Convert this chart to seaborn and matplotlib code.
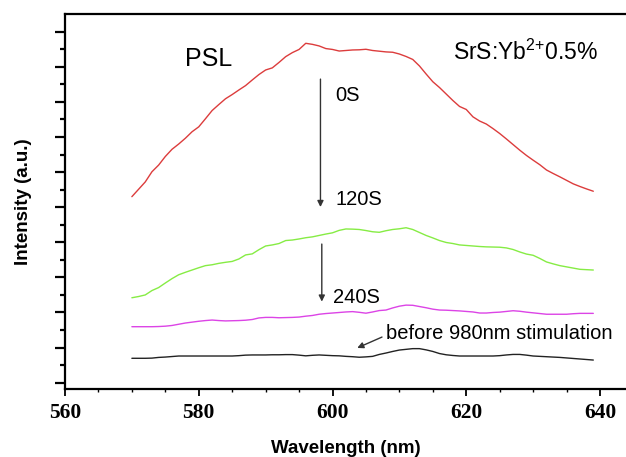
import numpy as np
import pandas as pd
import matplotlib
matplotlib.use("Agg")
import matplotlib.pyplot as plt
import seaborn as sns

# Wavelength grid (nm)
wavelength = np.arange(570, 640)

# PSL spectra (arbitrary units)
psl_0s = [10.60, 11.02, 11.44, 12.02, 12.40, 12.89, 13.30, 13.60, 13.93, 14.30,
          14.58, 15.04, 15.51, 15.85, 16.18, 16.42, 16.68, 16.93, 17.25, 17.56,
          17.82, 17.94, 18.25, 18.58, 18.81, 18.99, 19.34, 19.28, 19.19, 19.04,
          18.99, 18.90, 18.93, 18.96, 18.97, 19.00, 18.93, 18.89, 18.85, 18.83,
          18.73, 18.59, 18.42, 18.05, 17.59, 17.15, 16.82, 16.45, 16.08, 15.74,
          15.57, 15.15, 14.91, 14.74, 14.48, 14.20, 13.89, 13.57, 13.25, 12.95,
          12.68, 12.42, 12.12, 11.92, 11.73, 11.53, 11.33, 11.18, 11.04, 10.91]

psl_120s = [4.84, 4.91, 5.00, 5.25, 5.42, 5.68, 5.93, 6.15, 6.29, 6.42,
            6.55, 6.67, 6.72, 6.80, 6.86, 6.91, 7.05, 7.28, 7.34, 7.58,
            7.79, 7.85, 7.93, 8.10, 8.13, 8.19, 8.26, 8.31, 8.39, 8.47,
            8.54, 8.68, 8.76, 8.75, 8.73, 8.67, 8.60, 8.57, 8.66, 8.73,
            8.77, 8.83, 8.73, 8.56, 8.39, 8.25, 8.10, 7.99, 7.93, 7.85,
            7.82, 7.79, 7.76, 7.74, 7.73, 7.72, 7.68, 7.59, 7.45, 7.33,
            7.26, 7.08, 6.88, 6.77, 6.67, 6.60, 6.53, 6.46, 6.44, 6.42]

psl_240s = [3.19, 3.19, 3.19, 3.19, 3.20, 3.22, 3.26, 3.33, 3.40, 3.45,
            3.50, 3.54, 3.57, 3.54, 3.52, 3.53, 3.54, 3.56, 3.60, 3.69,
            3.72, 3.72, 3.70, 3.71, 3.72, 3.74, 3.79, 3.83, 3.90, 3.94,
            3.97, 4.00, 4.03, 4.05, 4.01, 3.96, 4.03, 4.11, 4.14, 4.26,
            4.36, 4.42, 4.41, 4.34, 4.27, 4.19, 4.14, 4.13, 4.11, 4.09,
            4.06, 4.03, 3.97, 3.97, 4.00, 4.02, 4.06, 4.10, 4.07, 4.02,
            3.98, 3.94, 3.90, 3.90, 3.90, 3.90, 3.93, 3.95, 3.95, 3.95]

psl_before = [1.39, 1.39, 1.39, 1.40, 1.44, 1.46, 1.49, 1.52, 1.52, 1.52,
              1.52, 1.52, 1.52, 1.52, 1.52, 1.52, 1.54, 1.57, 1.58, 1.58,
              1.58, 1.59, 1.59, 1.60, 1.60, 1.57, 1.53, 1.56, 1.58, 1.56,
              1.54, 1.53, 1.50, 1.48, 1.45, 1.47, 1.50, 1.61, 1.69, 1.78,
              1.86, 1.90, 1.94, 1.94, 1.87, 1.78, 1.66, 1.59, 1.55, 1.52,
              1.52, 1.52, 1.52, 1.52, 1.52, 1.54, 1.58, 1.61, 1.61, 1.57,
              1.52, 1.50, 1.48, 1.46, 1.44, 1.41, 1.38, 1.35, 1.32, 1.29]

series_colors = {"0S": "#dc3c3c", "120S": "#86ec44", "240S": "#dc44e6",
                 "before": "#222222"}

x_major = [560, 580, 600, 620, 640]

sns.set_style("ticks")
plt.rcParams["font.family"] = ["Liberation Sans", "DejaVu Sans"]
plt.rcParams["mathtext.fontset"] = "custom"
plt.rcParams["mathtext.rm"] = "Liberation Sans"
plt.rcParams["mathtext.default"] = "regular"
plt.rcParams["text.color"] = "black"
plt.rcParams["axes.labelcolor"] = "black"
plt.rcParams["xtick.color"] = "black"
plt.rcParams["ytick.color"] = "black"

fig = plt.figure(figsize=(6.26, 4.57), dpi=100)
ax = fig.add_axes([65 / 626, 68 / 457, 561.75 / 626, 375 / 457])

spectra = {"0S": psl_0s, "120S": psl_120s, "240S": psl_240s, "before": psl_before}
for name, vals in spectra.items():
    sns.lineplot(x=wavelength, y=vals, color=series_colors[name], lw=1.0,
                 ax=ax, legend=False)

ax.set_xlim(560, 644)
ax.set_ylim(-0.36, 21.01)
ax.set_xticks(x_major)
ax.set_xticks(np.arange(560, 645, 5), minor=True)
ax.set_yticks(np.arange(0, 21, 2))
ax.set_yticks(np.arange(1, 21, 2), minor=True)
ax.set_yticklabels([])

for side in ("left", "top", "bottom"):
    ax.spines[side].set_linewidth(1.6)
    ax.spines[side].set_color("black")
ax.spines["right"].set_visible(False)

ax.tick_params(axis="x", which="major", direction="out", length=5, width=1.3,
               pad=5, top=False)
ax.tick_params(axis="x", which="minor", direction="out", length=2.5, width=1.0,
               top=False)
ax.tick_params(axis="y", which="major", direction="out", length=7, width=1.6,
               right=False)
ax.tick_params(axis="y", which="minor", direction="out", length=3.5, width=1.6,
               right=False)
for lab in ax.get_xticklabels():
    lab.set_fontfamily("Liberation Serif")
    lab.set_fontweight("bold")
    lab.set_fontsize(15.5)

ax.set_xlabel("Wavelength (nm)", fontsize=13.5, fontweight="bold", labelpad=12)
ax.set_ylabel("Intensity (a.u.)", fontsize=13.5, fontweight="bold", labelpad=13)

# Annotations
ax.text(577.9, 18.04, "PSL", fontsize=18, ha="left", va="baseline")
ax.text(618.0, 18.39, "SrS:Yb$^{2{+}}$0.5%", fontsize=16.5, ha="left", va="baseline")
ax.text(600.4, 16.07, "0S", fontsize=14.5, ha="left", va="baseline")
ax.text(600.4, 10.13, "120S", fontsize=14.5, ha="left", va="baseline")
ax.text(600.1, 4.52, "240S", fontsize=14.5, ha="left", va="baseline")
ax.text(608.0, 2.47, "before 980nm stimulation", fontsize=14.5,
        ha="left", va="baseline")

arrow = dict(arrowstyle="-|>", color="#333333", lw=1.0, mutation_scale=9,
             shrinkA=0, shrinkB=0)
ax.annotate("", xy=(598.2, 10.01), xytext=(598.2, 17.30), arrowprops=arrow)
ax.annotate("", xy=(598.4, 4.62), xytext=(598.4, 7.90), arrowprops=arrow)
ax.annotate("", xy=(603.7, 1.98), xytext=(607.4, 2.60), arrowprops=arrow)

fig.savefig("out.png", dpi=100)
